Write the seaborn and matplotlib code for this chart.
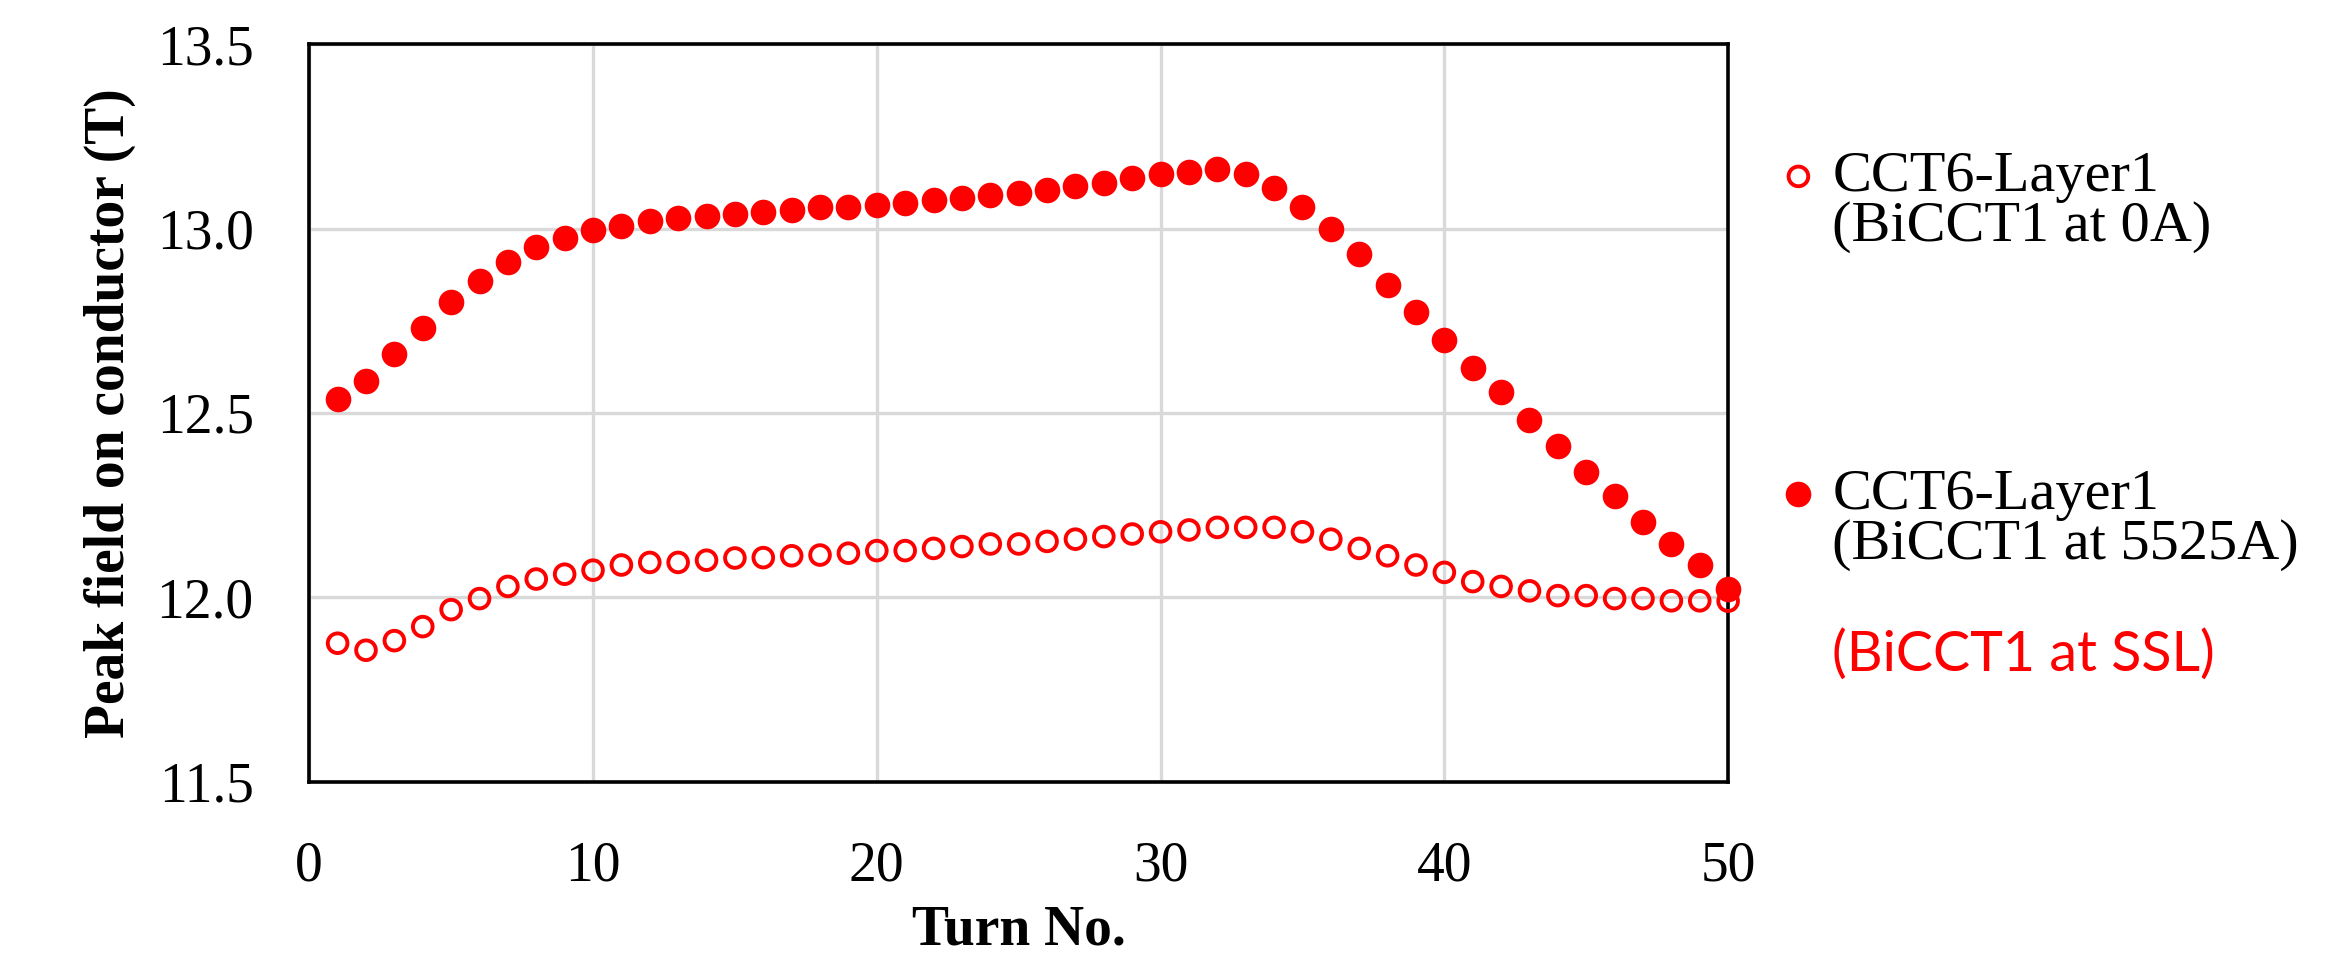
import matplotlib
matplotlib.use("Agg")
import matplotlib.pyplot as plt
import seaborn as sns
import pandas as pd

# Turn index along the coil layer
turns = list(range(1, 51))

# Peak field on conductor (T), CCT6 layer 1, BiCCT1 unpowered
field_bicct_0a = [
    11.876, 11.857, 11.883, 11.921, 11.967, 11.997, 12.030, 12.050, 12.063, 12.074,
    12.088, 12.095, 12.095, 12.101, 12.107, 12.108, 12.113, 12.115, 12.120, 12.127,
    12.127, 12.133, 12.138, 12.145, 12.145, 12.152, 12.158, 12.165, 12.172, 12.178,
    12.183, 12.190, 12.190, 12.190, 12.178, 12.158, 12.133, 12.113, 12.088, 12.068,
    12.043, 12.030, 12.018, 12.005, 12.005, 11.997, 11.997, 11.991, 11.991, 11.990,
]

# Peak field on conductor (T), CCT6 layer 1, BiCCT1 at 5525 A
field_bicct_5525a = [
    12.539, 12.588, 12.659, 12.729, 12.801, 12.858, 12.909, 12.950, 12.974, 12.995,
    13.007, 13.021, 13.028, 13.033, 13.039, 13.044, 13.051, 13.057, 13.059, 13.064,
    13.070, 13.077, 13.083, 13.090, 13.097, 13.105, 13.116, 13.122, 13.136, 13.147,
    13.154, 13.161, 13.147, 13.109, 13.057, 13.000, 12.930, 12.847, 12.775, 12.698,
    12.622, 12.558, 12.481, 12.410, 12.339, 12.275, 12.205, 12.146, 12.088, 12.022,
]

series_labels = ["CCT6-Layer1\n(BiCCT1 at 0A)", "CCT6-Layer1\n(BiCCT1 at 5525A)"]
note_text = "(BiCCT1 at SSL)"
x_ticks = [0, 10, 20, 30, 40, 50]
y_ticks = [11.5, 12.0, 12.5, 13.0, 13.5]

df_open = pd.DataFrame({"turn": turns, "field": field_bicct_0a})
df_full = pd.DataFrame({"turn": turns, "field": field_bicct_5525a})

sns.set_style("whitegrid", {"grid.color": "#d9d9d9", "axes.edgecolor": "black",
                            "text.color": "black", "axes.labelcolor": "black",
                            "xtick.color": "black", "ytick.color": "black"})
plt.rcParams["font.family"] = ["Liberation Serif", "DejaVu Serif"]

fig = plt.figure(figsize=(23.41, 9.55), dpi=100)
ax = fig.add_axes([0.1321, 0.1812, 0.6061, 0.7727])

RED = "#ff0000"
sns.scatterplot(data=df_open, x="turn", y="field", ax=ax, s=200,
                color=RED, facecolor="none", edgecolor=RED, linewidth=2.8,
                label=series_labels[0], clip_on=False, zorder=4)
sns.scatterplot(data=df_full, x="turn", y="field", ax=ax, s=340,
                color=RED, edgecolor=RED, linewidth=0,
                label=series_labels[1], clip_on=False, zorder=5)

ax.set_xlim(0, 50)
ax.set_ylim(11.5, 13.5)
ax.set_xticks(x_ticks)
ax.set_yticks(y_ticks)
ax.set_yticklabels([f"{v:.1f}" for v in y_ticks])
ax.set_axisbelow(True)
ax.grid(True, color="#d9d9d9", linewidth=2.4)
for sp in ax.spines.values():
    sp.set_color("black")
    sp.set_linewidth(2.6)
    sp.set_zorder(3)

ax.tick_params(axis="both", length=0, labelsize=40, colors="black")
ax.tick_params(axis="y", pad=40)
ax.tick_params(axis="x", pad=42)

ax.set_xlabel("Turn No.", fontsize=40, fontweight="bold", labelpad=9, color="black")
ax.set_ylabel("Peak field on conductor (T)", fontsize=40, fontweight="bold",
              labelpad=15, color="black")

handles, labels = ax.get_legend_handles_labels()
leg = ax.legend(handles, labels, loc="upper left", bbox_to_anchor=(0.762, 0.842),
                bbox_transform=fig.transFigure, frameon=False, fontsize=42,
                handlelength=0.5, handletextpad=0.33, labelspacing=3.7,
                borderpad=0, borderaxespad=0)
for t in leg.get_texts():
    t.set_linespacing(0.95)
    t.set_color("black")
# keep each marker level with the first line of its label
for col in leg._legend_handle_box.get_children():
    for row in col.get_children():
        row.align = "top"

fig.text(0.7825, 0.314, note_text, color=RED, fontsize=40,
         family=["Lato", "DejaVu Sans"], va="center", ha="left")

fig.savefig("out.png", dpi=100)
